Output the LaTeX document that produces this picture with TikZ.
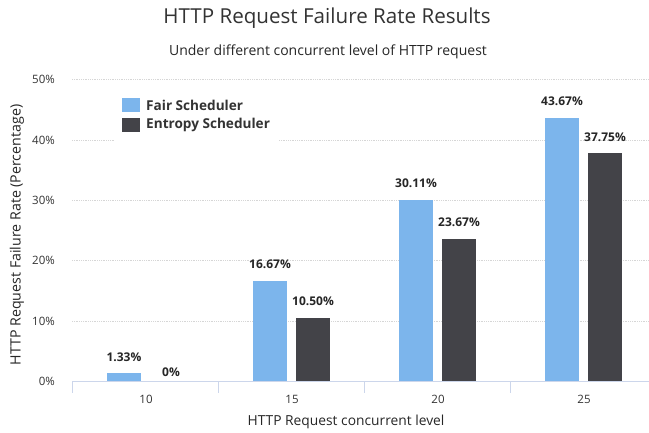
\documentclass[tikz,border=0pt]{standalone}
\usepackage{fontspec}
\setmainfont{Open Sans}
\definecolor{fairblue}{HTML}{7CB5EC}
\definecolor{entdark}{HTML}{434348}
\definecolor{gridc}{HTML}{D6D6D6}
\definecolor{axisc}{HTML}{CCD6EB}
\definecolor{txt}{HTML}{333333}
\begin{document}
\begin{tikzpicture}[x=1pt,y=-1pt,
  ticklbl/.style={text=txt,font=\fontsize{11.5}{14}\selectfont,inner sep=0pt},
  datalbl/.style={text=black!85,font=\bfseries\fontsize{12}{14}\selectfont,inner sep=0pt},
  leglbl/.style={text=txt,font=\bfseries\fontsize{13.6}{16}\selectfont,inner sep=0pt,anchor=west},
  gridline/.style={gridc,line width=0.8pt,densely dotted},
  axisline/.style={axisc,line width=1pt}]
\useasboundingbox (0,0) rectangle (649,432);
\fill[white] (0,0) rectangle (649,432);
% grid lines and y labels
\foreach \v in {0,10,20,30,40,50}{
  \pgfmathsetmacro{\yy}{381.5-6.04*\v}
  \ifnum\v>0 \draw[gridline] (72,\yy) -- (649,\yy); \fi
  \node[ticklbl,anchor=east] (y\v) at (55,\yy) {\v\%};
}
% legend background
\fill[white] (114,88) rectangle (279,143);
% x axis
\draw[axisline] (72,381.5) -- (649,381.5);
\foreach \x in {72,218,364,510}{
  \draw[axisc,line width=0.8pt] (\x,381.5) -- (\x,393);
}
% bars
\foreach \c/\a/\b/\cat in {291/16.67/10.50/15, 437/30.11/23.67/20, 583/43.67/37.75/25}{
  \pgfmathsetmacro{\ya}{381.5-6.04*\a}
  \pgfmathsetmacro{\yb}{381.5-6.04*\b}
  \fill[fairblue] (\c-38,\ya) rectangle (\c-4,381);
  \fill[entdark] (\c+5,\yb) rectangle (\c+39,381);
  \node[datalbl] (la\cat) at (\c-21,\ya-16.5) {\a\%};
  \node[datalbl] (lb\cat) at (\c+22,\yb-16.5) {\b\%};
  \node[ticklbl] (cat\cat) at (\c+1,399) {\cat};
}
% first category (second series is zero)
\fill[fairblue] (107,{381.5-6.04*1.33}) rectangle (141,381);
\node[datalbl] (la10) at (124,{381.5-6.04*1.33-16.5}) {1.33\%};
\node[datalbl] (lb10) at (171,372) {0\%};
\node[ticklbl] (cat10) at (146,399) {10};
% legend
\fill[fairblue] (122,98) rectangle (140,112);
\fill[entdark] (122,118) rectangle (140,132);
\node[leglbl] (leg1) at (146,105) {Fair Scheduler};
\node[leglbl] (leg2) at (146,125) {Entropy Scheduler};
% titles
\node[text=txt,font=\fontsize{20.6}{25}\selectfont,inner sep=0pt] (title) at (327,18) {HTTP Request Failure Rate Results};
\node[text=black!85,font=\fontsize{14}{17}\selectfont,inner sep=0pt] (subtitle) at (328,52) {Under different concurrent level of HTTP request};
\node[text=black!85,font=\fontsize{13.8}{16}\selectfont,inner sep=0pt] (xtitle) at (346,422) {HTTP Request concurrent level};
\node[text=black!85,font=\fontsize{14.2}{17}\selectfont,inner sep=0pt,rotate=90] (ytitle) at (17,235) {HTTP Request Failure Rate (Percentage)};
\end{tikzpicture}
\end{document}
